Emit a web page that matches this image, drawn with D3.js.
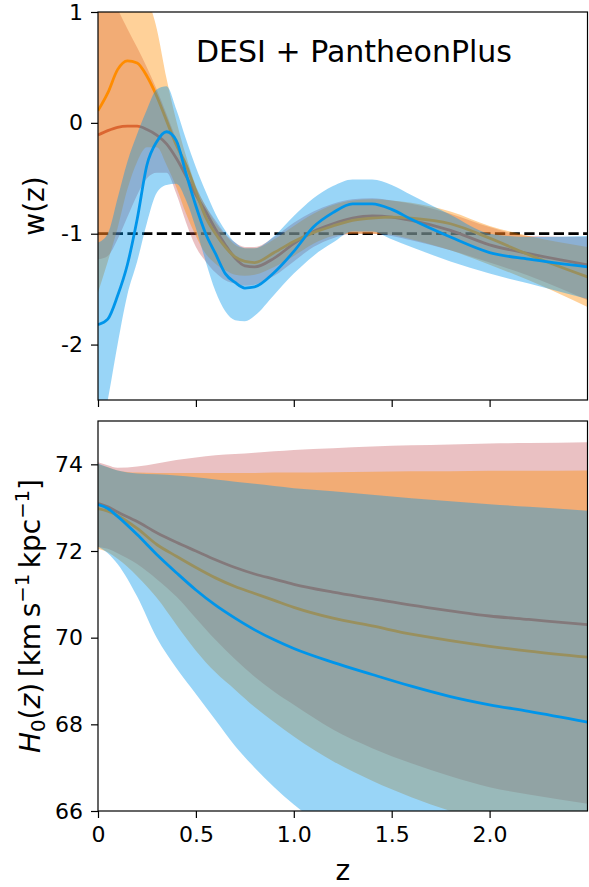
<!DOCTYPE html>
<html>
<head>
<meta charset="utf-8">
<script src="https://cdn.jsdelivr.net/npm/d3@7"></script>
<style>
  html, body { margin: 0; padding: 0; background: #fff; }
  svg { display: block; font-family: "DejaVu Sans", sans-serif; }
</style>
</head>
<body>
<svg id="chart" width="589" height="887"></svg>
<script>
// ---- top panel: w(z) ----
const zTop = [0, 0.05, 0.1, 0.15, 0.2, 0.25, 0.3, 0.35, 0.4, 0.45, 0.5, 0.55, 0.6, 0.65, 0.7, 0.75, 0.8, 0.9, 1.0, 1.1, 1.2, 1.3, 1.4, 1.5, 1.6, 1.8, 2.0, 2.2, 2.5];

const wRed     = [-0.11, -0.07, -0.04, -0.03, -0.03, -0.06, -0.11, -0.19, -0.32, -0.48, -0.65, -0.8, -0.96, -1.1, -1.22, -1.29, -1.3, -1.22, -1.09, -0.98, -0.91, -0.86, -0.84, -0.85, -0.88, -0.97, -1.1, -1.18, -1.28];
const wRedHi   = [1.5, 1.25, 1.03, 0.85, 0.68, 0.5, 0.3, 0.08, -0.15, -0.38, -0.58, -0.75, -0.88, -1.0, -1.08, -1.12, -1.12, -1.03, -0.9, -0.8, -0.73, -0.69, -0.68, -0.7, -0.73, -0.82, -0.94, -1.02, -1.03];
const wRedLo   = [-1.23, -1.2, -1.05, -0.85, -0.65, -0.5, -0.45, -0.45, -0.64, -0.9, -1.12, -1.25, -1.35, -1.42, -1.45, -1.47, -1.46, -1.38, -1.25, -1.12, -1.04, -1.0, -1.0, -1.02, -1.06, -1.15, -1.26, -1.38, -1.6];

const wOrange   = [0.11, 0.27, 0.48, 0.56, 0.54, 0.42, 0.24, 0.02, -0.2, -0.38, -0.62, -0.85, -1.0, -1.12, -1.21, -1.25, -1.26, -1.17, -1.07, -0.99, -0.93, -0.88, -0.86, -0.85, -0.86, -0.91, -1.04, -1.19, -1.39];
const wOrangeHi = [3, 2.6, 2.2, 1.8, 1.45, 1.15, 0.85, 0.4, 0.02, -0.3, -0.57, -0.75, -0.9, -1.01, -1.1, -1.13, -1.13, -1.05, -0.93, -0.82, -0.74, -0.7, -0.69, -0.7, -0.72, -0.8, -0.93, -1.02, -1.12];
const wOrangeLo = [-1.53, -1.25, -0.95, -0.6, -0.35, -0.22, -0.22, -0.38, -0.58, -0.82, -1.02, -1.18, -1.27, -1.33, -1.37, -1.38, -1.37, -1.3, -1.2, -1.09, -1.02, -1.0, -1.0, -1.01, -1.05, -1.15, -1.28, -1.42, -1.66];

const wBlue   = [-1.82, -1.77, -1.56, -1.28, -0.87, -0.38, -0.17, -0.08, -0.16, -0.46, -0.75, -1.0, -1.18, -1.36, -1.44, -1.49, -1.48, -1.35, -1.16, -0.94, -0.81, -0.73, -0.73, -0.78, -0.87, -1.03, -1.17, -1.23, -1.3];
const wBlueHi = [-1.08, -1.0, -0.68, -0.35, -0.1, 0.12, 0.3, 0.33, 0.12, -0.15, -0.4, -0.62, -0.82, -0.97, -1.08, -1.13, -1.13, -1.02, -0.84, -0.68, -0.57, -0.51, -0.51, -0.56, -0.65, -0.83, -1.0, -1.03, -1.02];
const wBlueLo = [-2.9, -2.5, -2.0, -1.55, -1.25, -0.9, -0.63, -0.56, -0.55, -0.7, -0.95, -1.25, -1.52, -1.7, -1.78, -1.79, -1.74, -1.55, -1.36, -1.2, -1.08, -0.98, -0.98, -1.05, -1.12, -1.25, -1.36, -1.45, -1.59];

// ---- bottom panel: H0(z) ----
const zBot = [0, 0.05, 0.1, 0.2, 0.3, 0.4, 0.5, 0.6, 0.7, 0.8, 0.9, 1.0, 1.2, 1.4, 1.6, 1.8, 2.0, 2.2, 2.5];

const hRed     = [73.1, 73.02, 72.9, 72.68, 72.42, 72.2, 72.0, 71.8, 71.62, 71.47, 71.35, 71.23, 71.05, 70.9, 70.75, 70.62, 70.5, 70.42, 70.3];
const hRedHi   = [74.05, 73.98, 73.92, 73.95, 74.02, 74.1, 74.16, 74.21, 74.24, 74.27, 74.3, 74.33, 74.37, 74.41, 74.44, 74.46, 74.48, 74.49, 74.51];
const hRedLo   = [72.1, 72.05, 71.95, 71.7, 71.35, 70.95, 70.45, 69.95, 69.5, 69.1, 68.75, 68.45, 67.88, 67.45, 67.1, 66.8, 66.55, 66.38, 66.17];

const hOrange   = [72.98, 72.92, 72.82, 72.52, 72.15, 71.88, 71.62, 71.38, 71.18, 71.02, 70.86, 70.7, 70.45, 70.27, 70.08, 69.93, 69.8, 69.69, 69.55];
const hOrangeHi = [74.0, 73.93, 73.86, 73.81, 73.8, 73.8, 73.8, 73.8, 73.8, 73.8, 73.81, 73.81, 73.82, 73.83, 73.84, 73.84, 73.85, 73.85, 73.86];
const hOrangeLo = [72.05, 71.97, 71.82, 71.42, 70.92, 70.3, 69.7, 69.2, 68.8, 68.4, 68.05, 67.72, 67.15, 66.7, 66.32, 66.0, 65.72, 65.5, 65.2];

const hBlue   = [73.07, 72.98, 72.8, 72.38, 71.92, 71.5, 71.1, 70.75, 70.45, 70.18, 69.95, 69.75, 69.43, 69.15, 68.88, 68.64, 68.45, 68.3, 68.05];
const hBlueHi = [74.02, 73.93, 73.86, 73.79, 73.77, 73.74, 73.7, 73.65, 73.6, 73.55, 73.5, 73.45, 73.38, 73.3, 73.22, 73.15, 73.08, 73.02, 72.93];
const hBlueLo = [72.1, 71.95, 71.7, 70.95, 70.0, 69.3, 68.7, 68.1, 67.5, 67.0, 66.55, 66.15, 65.5, 65.0, 64.6, 64.3, 64.0, 63.8, 63.5];

const wTicks = [-2, -1, 0, 1];
const hTicks = [66, 68, 70, 72, 74];
const zTicks = [0, 0.5, 1.0, 1.5, 2.0];

const colRed = "#c44e52", colOrange = "#ff8c00", colBlue = "#0095ea";

const svg = d3.select("#chart");
const left = 98, right = 587.5;

const x = d3.scaleLinear().domain([0, 2.5]).range([left, right]);
const yW = d3.scaleLinear().domain([-2.5, 1]).range([400, 12]);
const yH = d3.scaleLinear().domain([66, 75]).range([811, 421]);

function clip(id, y0, y1) {
  svg.append("clipPath").attr("id", id)
    .append("rect").attr("x", left).attr("y", y0).attr("width", right - left).attr("height", y1 - y0);
}
clip("clipTop", 12, 400);
clip("clipBot", 421, 811);

function drawModels(g, zs, y, models) {
  models.forEach(m => {
    const area = d3.area()
      .x((d, i) => x(zs[i]))
      .y0((d, i) => y(m.lo[i]))
      .y1((d, i) => y(m.hi[i]))
      .curve(d3.curveMonotoneX);
    const line = d3.line()
      .x((d, i) => x(zs[i]))
      .y(d => y(d))
      .curve(d3.curveMonotoneX);
    g.append("path").datum(m.mid)
      .attr("d", area)
      .attr("fill", m.color)
      .attr("fill-opacity", m.alpha);
    g.append("path").datum(m.mid)
      .attr("d", line)
      .attr("fill", "none")
      .attr("stroke", m.color)
      .attr("stroke-width", 2.8)
      .attr("stroke-linejoin", "round");
  });
}

// top panel
const gTop = svg.append("g").attr("clip-path", "url(#clipTop)");
gTop.append("line")
  .attr("x1", x(0)).attr("x2", x(2.5))
  .attr("y1", yW(-1)).attr("y2", yW(-1))
  .attr("stroke", "black").attr("stroke-width", 2.8)
  .attr("stroke-dasharray", "10.3,4.4");
drawModels(gTop, zTop, yW, [
  { mid: wRed, lo: wRedLo, hi: wRedHi, color: colRed, alpha: 0.35 },
  { mid: wOrange, lo: wOrangeLo, hi: wOrangeHi, color: colOrange, alpha: 0.4 },
  { mid: wBlue, lo: wBlueLo, hi: wBlueHi, color: colBlue, alpha: 0.4 }
]);

// bottom panel
const gBot = svg.append("g").attr("clip-path", "url(#clipBot)");
drawModels(gBot, zBot, yH, [
  { mid: hRed, lo: hRedLo, hi: hRedHi, color: colRed, alpha: 0.35 },
  { mid: hOrange, lo: hOrangeLo, hi: hOrangeHi, color: colOrange, alpha: 0.4 },
  { mid: hBlue, lo: hBlueLo, hi: hBlueHi, color: colBlue, alpha: 0.4 }
]);

// frames
[[12, 400], [421, 811]].forEach(([y0, y1]) => {
  svg.append("rect")
    .attr("x", left).attr("y", y0)
    .attr("width", right - left).attr("height", y1 - y0)
    .attr("fill", "none").attr("stroke", "black").attr("stroke-width", 1.2);
});

function styleAxis(g) {
  g.select(".domain").remove();
  g.selectAll(".tick line").attr("stroke", "black").attr("stroke-width", 1.2);
  g.selectAll(".tick text").attr("font-size", 22).attr("fill", "black")
    .attr("font-family", "DejaVu Sans, sans-serif");
}

svg.append("g").attr("transform", `translate(${left},0)`)
  .call(d3.axisLeft(yW).tickValues(wTicks).tickFormat(d => String(d)).tickSize(7).tickPadding(8))
  .call(styleAxis);

svg.append("g").attr("transform", `translate(${left},0)`)
  .call(d3.axisLeft(yH).tickValues(hTicks).tickFormat(d => String(d)).tickSize(7).tickPadding(8))
  .call(styleAxis);

svg.append("g").attr("transform", "translate(0,400)")
  .call(d3.axisBottom(x).tickValues(zTicks).tickFormat("").tickSize(7))
  .call(styleAxis);

svg.append("g").attr("transform", "translate(0,811)")
  .call(d3.axisBottom(x).tickValues(zTicks)
    .tickFormat(d => d === 0 ? "0" : d3.format(".1f")(d)).tickSize(7).tickPadding(8))
  .call(styleAxis);

// texts
svg.append("text")
  .attr("x", 354).attr("y", 62)
  .attr("text-anchor", "middle")
  .attr("font-size", 30)
  .text("DESI + PantheonPlus");

svg.append("text")
  .attr("transform", "translate(44,206) rotate(-90)")
  .attr("text-anchor", "middle")
  .attr("font-size", 28)
  .text("w(z)");

svg.append("text")
  .attr("x", x(1.25)).attr("y", 880)
  .attr("text-anchor", "middle")
  .attr("font-size", 28)
  .text("z");

const hl = svg.append("text")
  .attr("transform", "translate(40,616) rotate(-90)")
  .attr("text-anchor", "middle")
  .attr("font-size", 28);
hl.append("tspan").attr("font-style", "italic").text("H");
hl.append("tspan").attr("font-size", 19.6).attr("dy", 5).text("0");
hl.append("tspan").attr("dy", -5).text("(");
hl.append("tspan").attr("font-style", "italic").text("z");
hl.append("tspan").text(")\u2009[km\u2009s");
hl.append("tspan").attr("font-size", 19.6).attr("dy", -11).text("\u22121");
hl.append("tspan").attr("dy", 11).text("\u2009kpc");
hl.append("tspan").attr("font-size", 19.6).attr("dy", -11).text("\u22121");
hl.append("tspan").attr("dy", 11).text("]");
</script>
</body>
</html>
